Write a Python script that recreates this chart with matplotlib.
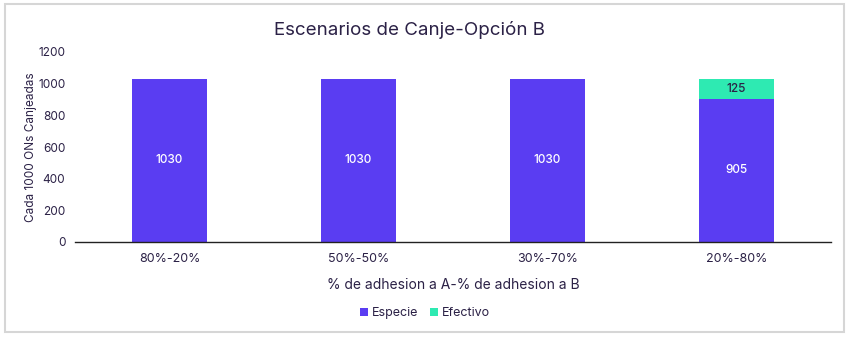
import matplotlib
matplotlib.use("Agg")
import matplotlib.pyplot as plt
from matplotlib.patches import Rectangle
import numpy as np

categories = ["80%-20%", "50%-50%", "30%-70%", "20%-80%"]
especie = [1030, 1030, 1030, 905]
efectivo = [0, 0, 0, 125]
yticks = [0, 200, 400, 600, 800, 1000, 1200]

purple = "#5a3df2"
teal = "#2eeab2"
txt = "#2b2146"

plt.rcParams['font.family'] = ['Inter', 'DejaVu Sans']

fig = plt.figure(figsize=(8.5, 3.4), dpi=100)
fig.patches.append(Rectangle((5/850, 1-332/340), 839/850, 328/340, transform=fig.transFigure,
                             fill=False, edgecolor="#d6d6d6", linewidth=1.5, zorder=0))
ax = fig.add_axes([75/850, 1-242/340, 756/850, 190/340])
x = np.arange(len(categories))
w = 0.40
b1 = ax.bar(x, especie, w, color=purple, label="Especie")
b2 = ax.bar(x, efectivo, w, bottom=especie, color=teal, label="Efectivo")

for i in range(len(categories)):
    ax.text(x[i], especie[i] / 2, str(especie[i]), ha="center", va="center",
            color="white", fontsize=8.5, fontweight="medium")
    if efectivo[i] > 0:
        ax.text(x[i], especie[i] + efectivo[i] / 2, str(efectivo[i]), ha="center", va="center",
                color=txt, fontsize=8.5, fontweight="medium")

ax.set_xlim(-0.5, 3.5)
ax.set_ylim(0, 1200)
ax.set_yticks(yticks)
ax.set_yticklabels([str(v) for v in yticks], color=txt, fontsize=8.5)
ax.set_xticks(x)
ax.set_xticklabels(categories, color=txt, fontsize=9)
ax.tick_params(axis="both", length=0, pad=8)
ax.tick_params(axis="y", pad=7)
for s in ["top", "right", "left"]:
    ax.spines[s].set_visible(False)
ax.spines["bottom"].set_color("#222222")
ax.spines["bottom"].set_linewidth(1.0)

ax.set_ylabel("Cada 1000 ONs Canjeadas", color=txt, fontsize=8.5)
ax.yaxis.set_label_coords(-(75 - 37) / 756, 0.5)
ax.set_xlabel("% de adhesion a A-% de adhesion a B", color=txt, fontsize=10, labelpad=9)
fig.text(0.482, 1-30/340, "Escenarios de Canje-Opción B", ha="center", va="center",
         color=txt, fontsize=13.5)

leg = fig.legend(handles=[b1, b2], labels=["Especie", "Efectivo"], loc="center",
                 bbox_to_anchor=(0.5, 1-313/340), ncol=2, frameon=False, fontsize=9,
                 handlelength=0.6, handleheight=0.6, handletextpad=0.3, columnspacing=1.0)
for t in leg.get_texts():
    t.set_color(txt)

fig.savefig("out.png", dpi=100)
